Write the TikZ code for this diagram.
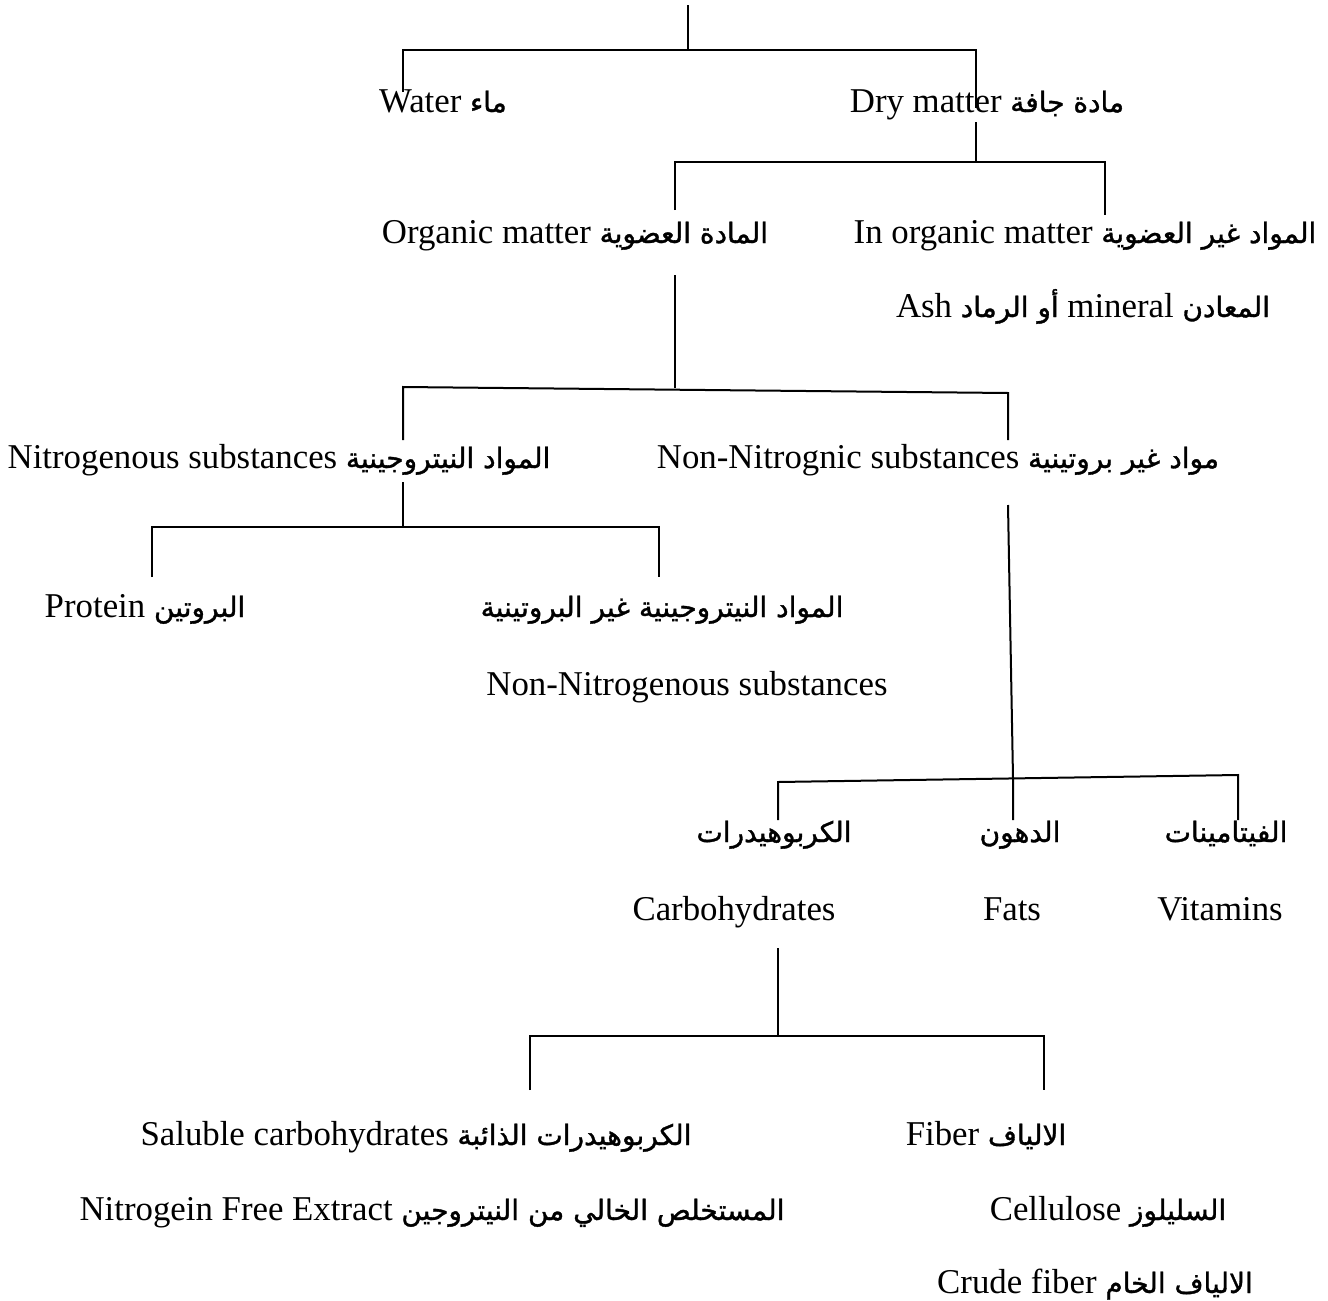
\documentclass[tikz,border=0pt]{standalone}
\usepackage{fontspec}
\setmainfont{Liberation Serif}
\newfontfamily\arabicfont[Script=Arabic,FakeBold=1.2]{DejaVu Sans}
\TeXXeTstate=1
\newcommand\arb[1]{{\arabicfont\fontsize{14}{16}\selectfont\beginR #1\endR}}
\begin{document}
\begin{tikzpicture}[x=0.5pt,y=-0.5pt,
  lbl/.style={anchor=base, inner sep=0pt, font=\fontsize{17.4}{20}\selectfont},
  conn/.style={line width=1pt, draw=black}]
\fill[white] (0,0) rectangle (1328,1301);
\useasboundingbox (0,0) rectangle (1328,1301);

% labels
\node[lbl] (water) at (443,112) {Water \arb{ماء}};
\node[lbl] (dry) at (987,112) {Dry matter \arb{مادة جافة}};
\node[lbl] (organic) at (575,243) {Organic matter \arb{المادة العضوية}};
\node[lbl] (inorganic) at (1085,243) {In organic matter \arb{المواد غير العضوية}};
\node[lbl] (ash) at (1083,317) {Ash \arb{أو الرماد} mineral \arb{المعادن}};
\node[lbl] (nitro) at (279,468) {Nitrogenous substances \arb{المواد النيتروجينية}};
\node[lbl] (nonnitro) at (938,468) {Non-Nitrognic substances \arb{مواد غير بروتينية}};
\node[lbl] (protein) at (145,617) {Protein \arb{البروتين}};
\node[lbl] (npn) at (662,617) {\arb{المواد النيتروجينية غير البروتينية}};
\node[lbl] (npnen) at (687,695) {Non-Nitrogenous substances};
\node[lbl] (carbar) at (774,842) {\arb{الكربوهيدرات}};
\node[lbl] (fatsar) at (1020,842) {\arb{الدهون}};
\node[lbl] (vitar) at (1226,842) {\arb{الفيتامينات}};
\node[lbl] (carb) at (734,920) {Carbohydrates};
\node[lbl] (fats) at (1012,920) {Fats};
\node[lbl] (vit) at (1220,920) {Vitamins};
\node[lbl] (soluble) at (416,1145) {Saluble carbohydrates \arb{الكربوهيدرات الذائبة}};
\node[lbl] (fiber) at (986,1145) {Fiber \arb{الالياف}};
\node[lbl] (nfe) at (432,1220) {Nitrogein Free Extract \arb{المستخلص الخالي من النيتروجين}};
\node[lbl] (cellulose) at (1108,1220) {Cellulose \arb{السليلوز}};
\node[lbl] (crude) at (1095,1293) {Crude fiber \arb{الالياف الخام}};

% connector points
\coordinate (r0) at (688,5);   \coordinate (r1) at (688,50);
\coordinate (wa) at (403,50);  \coordinate (we) at (403,92);
\coordinate (da) at (976,50);  \coordinate (de) at (976,108);
\coordinate (d0) at (976,122); \coordinate (d1) at (976,162);
\coordinate (oa) at (675,162); \coordinate (oe) at (675,210);
\coordinate (ia) at (1105,162);\coordinate (ie) at (1105,215);
\coordinate (o0) at (675,275); \coordinate (o1) at (675,388);
\coordinate (na) at (403,387); \coordinate (ne) at (403,440);
\coordinate (ma) at (1008,393);\coordinate (me) at (1008,440);
\coordinate (n0) at (403,482); \coordinate (n1) at (403,527);
\coordinate (pa) at (152,527); \coordinate (pe) at (152,577);
\coordinate (qa) at (659,527); \coordinate (qe) at (659,577);
\coordinate (m0) at (1008,505);\coordinate (m1) at (1013,778);
\coordinate (fe) at (1013,820);
\coordinate (ca) at (778,782); \coordinate (ce) at (778,820);
\coordinate (va) at (1238,775);\coordinate (ve) at (1238,820);
\coordinate (c0) at (778,948); \coordinate (c1) at (778,1036);
\coordinate (sa) at (530,1036);\coordinate (se) at (530,1090);
\coordinate (xa) at (1044,1036);\coordinate (xe) at (1044,1090);

% connectors
\draw[conn] (r0) -- (r1);
\draw[conn] (we) -- (wa) -- (da) -- (de);
\draw[conn] (d0) -- (d1);
\draw[conn] (oe) -- (oa) -- (ia) -- (ie);
\draw[conn] (o0) -- (o1);
\draw[conn] (ne) -- (na) -- (ma) -- (me);
\draw[conn] (n0) -- (n1);
\draw[conn] (pe) -- (pa) -- (qa) -- (qe);
\draw[conn] (m0) -- (m1) -- (fe);
\draw[conn] (ce) -- (ca) -- (va) -- (ve);
\draw[conn] (c0) -- (c1);
\draw[conn] (se) -- (sa) -- (xa) -- (xe);
\end{tikzpicture}
\end{document}
